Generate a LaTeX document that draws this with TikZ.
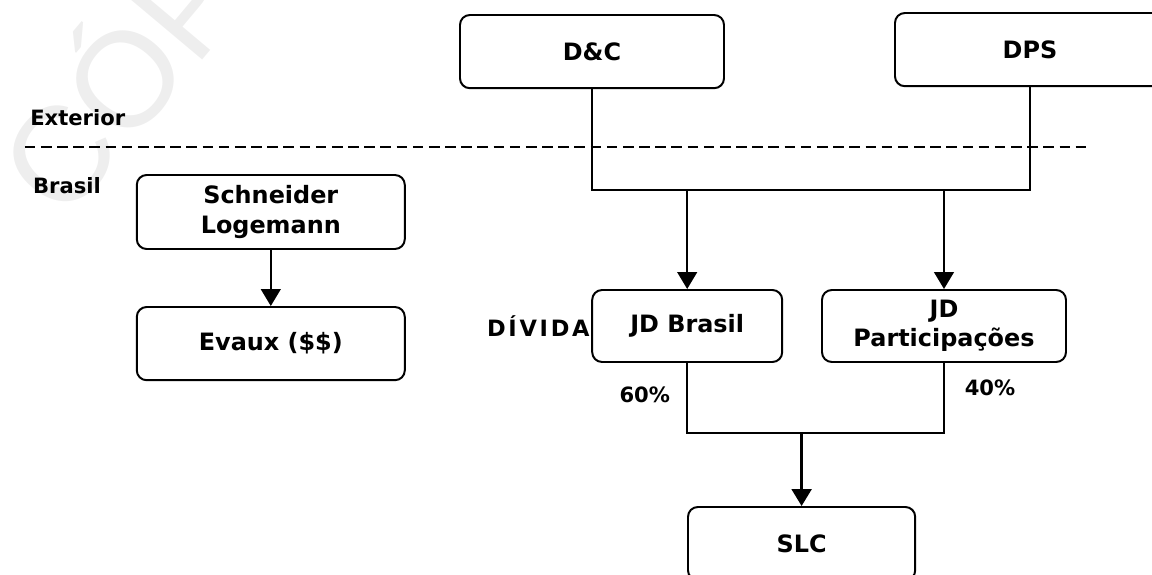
\documentclass[tikz,border=0pt]{standalone}
\usepackage{fontspec}
\setmainfont{DejaVu Sans}
\newfontfamily\wmfont{Liberation Sans}
\usetikzlibrary{arrows.meta}

\begin{document}
\begin{tikzpicture}[
  box/.style={draw,line width=1.4pt,rounded corners=7pt,align=center,inner sep=0pt,
    font=\fontsize{17}{21}\selectfont\bfseries},
  lbl/.style={inner sep=0pt,font=\fontsize{15}{17}\selectfont\bfseries},
  link/.style={line width=1.3pt},
  arr/.style={link,-{Triangle[length=12pt,width=14pt]}}
]
  \useasboundingbox (0,0) rectangle (28.8,-14.375);
  % watermark
  \node[rotate=50,anchor=base west,inner sep=0pt,text=gray!13,
    font=\wmfont\fontsize{96}{96}\selectfont] (wm) at (1.62,-5.6) {CÓPIA};

  % Exterior / Brasil
  \node[lbl,anchor=west] (ext) at (0.75,-2.93) {Exterior};
  \node[lbl,anchor=west] (bra) at (0.82,-4.65) {Brasil};
  \coordinate (sepL) at (0.62,-3.68);
  \coordinate (sepR) at (27.2,-3.68);
  \draw[line width=1.5pt,dash pattern=on 7.5pt off 4pt] (sepL) -- (sepR);

  % companies abroad
  \node[box,minimum width=6.6cm,minimum height=1.83cm] (dc) at (14.8,-1.29) {D\&C};
  \node[box,minimum width=6.75cm,minimum height=1.83cm] (dps) at (25.75,-1.24) {DPS};

  % Brasil side
  \node[box,minimum width=6.7cm,minimum height=1.85cm] (schneider) at (6.77,-5.3) {Schneider\\Logemann};
  \node[box,minimum width=6.7cm,minimum height=1.83cm] (evaux) at (6.77,-8.59) {Evaux (\$\$)};
  \node[box,minimum width=4.75cm,minimum height=1.8cm] (jdbrasil) at (17.18,-8.15) {JD Brasil};
  \node[box,minimum width=6.1cm,minimum height=1.8cm] (jdpart) at (23.6,-8.15) {JD\\Participações};
  \node[box,minimum width=5.68cm,minimum height=1.83cm] (slc) at (20.04,-13.59) {SLC};

  \node[lbl,anchor=east,font=\fontsize{16}{18}\selectfont\bfseries\addfontfeatures{LetterSpace=12}] (divida) at ([xshift=-1pt]jdbrasil.west) {DÍVIDA};
  \node[lbl] (p60) at (16.12,-9.87) {60\%};
  \node[lbl] (p40) at (24.75,-9.7) {40\%};

  % connectors
  \coordinate (bus) at (0,-4.75);
  \coordinate (bus2) at (0,-10.83);
  \draw[link] (dc.south) |- (dps.south |- bus) -- (dps.south);
  \draw[arr] (jdbrasil.north |- bus) -- (jdbrasil.north);
  \draw[arr] (jdpart.north |- bus) -- (jdpart.north);
  \draw[arr] (schneider) -- (evaux);
  \draw[link] (jdbrasil.south) |- (jdpart.south |- bus2) -- (jdpart.south);
  \draw[arr,line width=2pt] (slc.north |- bus2) -- (slc.north);
\end{tikzpicture}
\end{document}
